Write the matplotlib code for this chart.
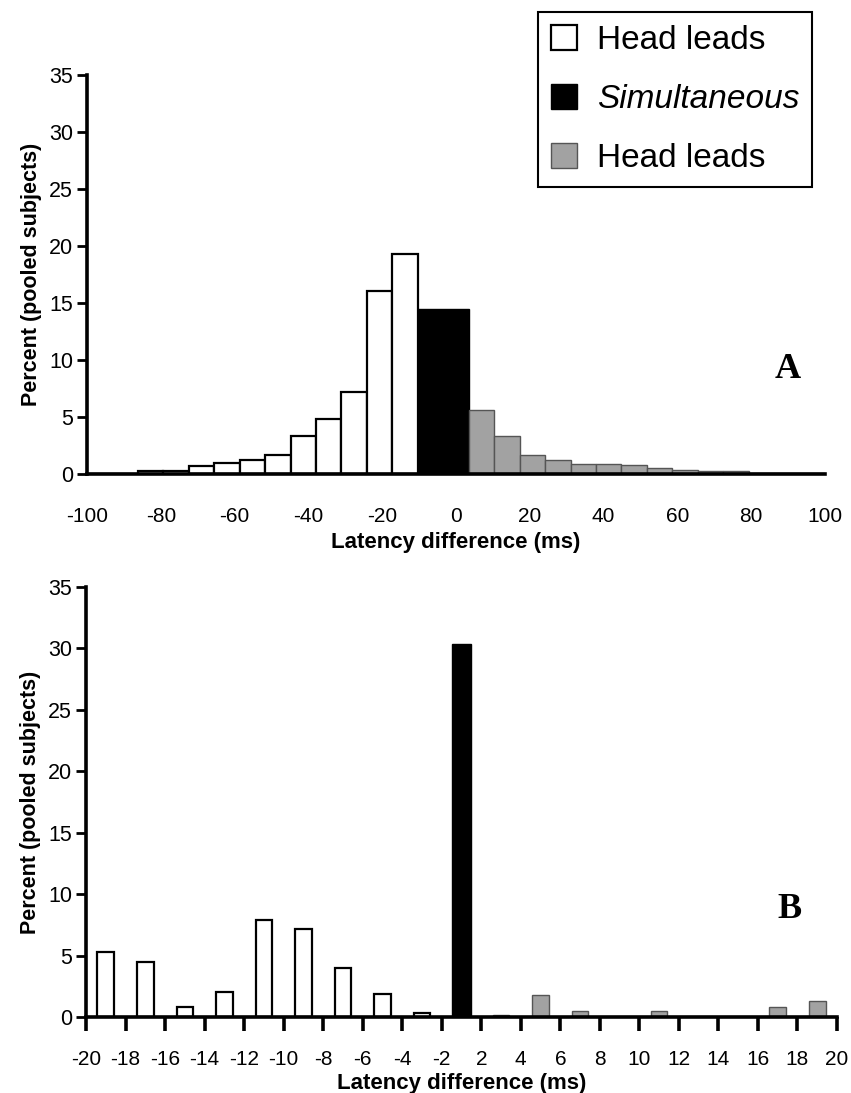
import numpy as np
import matplotlib
matplotlib.use("Agg")
import matplotlib.pyplot as plt

plt.rcParams['font.family'] = ['Liberation Sans', 'DejaVu Sans']
plt.rcParams['axes.unicode_minus'] = False

# Panel A: 29 equal bins spanning -100..100 ms
top_white = [0, 0, 0.3, 0.3, 0.73, 0.93, 1.2, 1.69, 3.36, 4.82, 7.2, 16.06, 19.3]
top_black = 14.5   # spans two bins
top_gray = [5.6, 3.35, 1.7, 1.25, 0.9, 0.9, 0.75, 0.5, 0.35, 0.3, 0.3, 0.1, 0.1, 0.05]

# Panel B: 2 ms categories, tick labels at boundaries
bottom_labels = ['-20', '-18', '-16', '-14', '-12', '-10', '-8', '-6', '-4', '-2',
                 '2', '4', '6', '8', '10', '12', '14', '16', '18', '20']
bottom_white = [5.3, 4.45, 0.8, 2.05, 7.9, 7.15, 4.0, 1.85, 0.3]
bottom_black = 30.4
bottom_gray = [0.2, 1.8, 0.45, 0, 0.45, 0, 0, 0.8, 1.3]

GRAY = '#a2a2a2'
W, H = 851, 1093

fig = plt.figure(figsize=(W / 100, H / 100), dpi=100)


def style_axes(ax):
    for s in ['top', 'right']:
        ax.spines[s].set_visible(False)
    for s in ['left', 'bottom']:
        ax.spines[s].set_linewidth(2.6)
    ax.set_ylim(0, 35)
    ax.set_yticks(range(0, 36, 5))
    ax.tick_params(axis='y', direction='out', length=7, width=2, pad=3, labelsize=15.5)
    ax.set_ylabel('Percent (pooled subjects)', fontsize=15.5, fontweight='bold', labelpad=5)


# ---- Panel A ----
ax1 = fig.add_axes([87 / W, 1 - 474 / H, (825 - 87) / W, (474 - 75) / H])
style_axes(ax1)
edges = np.linspace(-100, 100, 30)
bw = edges[1] - edges[0]
nw = len(top_white)
wb = ax1.bar(edges[:nw], top_white, width=bw, align='edge', color='white',
             edgecolor='black', linewidth=1.6, zorder=2)
bb = ax1.bar(edges[nw], top_black, width=2 * bw, align='edge', color='black',
             edgecolor='black', linewidth=1.0, zorder=2)
gb = ax1.bar(edges[nw + 2:nw + 2 + len(top_gray)], top_gray, width=bw, align='edge',
             color=GRAY, edgecolor='#555555', linewidth=1.0, zorder=2)
ax1.set_xlim(-100, 100)
ax1.set_xticks(range(-100, 101, 20))
ax1.tick_params(axis='x', length=0, pad=24, labelsize=15)
ax1.set_xlabel('Latency difference (ms)', fontsize=16, fontweight='bold', labelpad=4)
ax1.text(788 / W, 1 - 369 / H, 'A', transform=fig.transFigure, fontsize=26,
         fontweight='bold', family='Liberation Serif', ha='center', va='center')

# ---- Panel B ----
ax2 = fig.add_axes([86 / W, 1 - 1017 / H, (837 - 86) / W, (1017 - 587) / H])
style_axes(ax2)
n = len(bottom_labels) - 1
xpos = np.arange(n) + 0.5
nbw = len(bottom_white)
ax2.bar(xpos[:nbw], bottom_white, width=0.42, color='white', edgecolor='black',
        linewidth=1.6, zorder=2)
ax2.bar(xpos[nbw], bottom_black, width=0.46, color='black', edgecolor='black',
        linewidth=1.0, zorder=2)
ax2.bar(xpos[nbw + 1:], bottom_gray, width=0.42, color=GRAY, edgecolor='#555555',
        linewidth=1.0, zorder=2)
ax2.set_xlim(0, n)
ax2.set_xticks(np.arange(n + 1))
ax2.set_xticklabels(bottom_labels)
ax2.tick_params(axis='x', direction='out', length=10, width=2.6, pad=14, labelsize=15)
ax2.set_xlabel('Latency difference (ms)', fontsize=16, fontweight='bold', labelpad=3)
ax2.text(789 / W, 1 - 910 / H, 'B', transform=fig.transFigure, fontsize=26,
         fontweight='bold', family='Liberation Serif', ha='center', va='center')

# legend
leg = ax1.legend([wb, bb, gb], ['Head leads', 'Simultaneous', 'Head leads'],
                 loc='upper left', bbox_to_anchor=(538 / W, 1 - 12 / H),
                 bbox_transform=fig.transFigure, fontsize=24, frameon=True,
                 fancybox=False, edgecolor='black', framealpha=1,
                 handlelength=0.78, handleheight=0.78, handletextpad=0.6,
                 labelspacing=0.84, borderpad=0.38, borderaxespad=0)
leg.get_frame().set_linewidth(1.5)
leg.get_texts()[1].set_fontstyle('italic')

fig.savefig('out.png', dpi=100)
